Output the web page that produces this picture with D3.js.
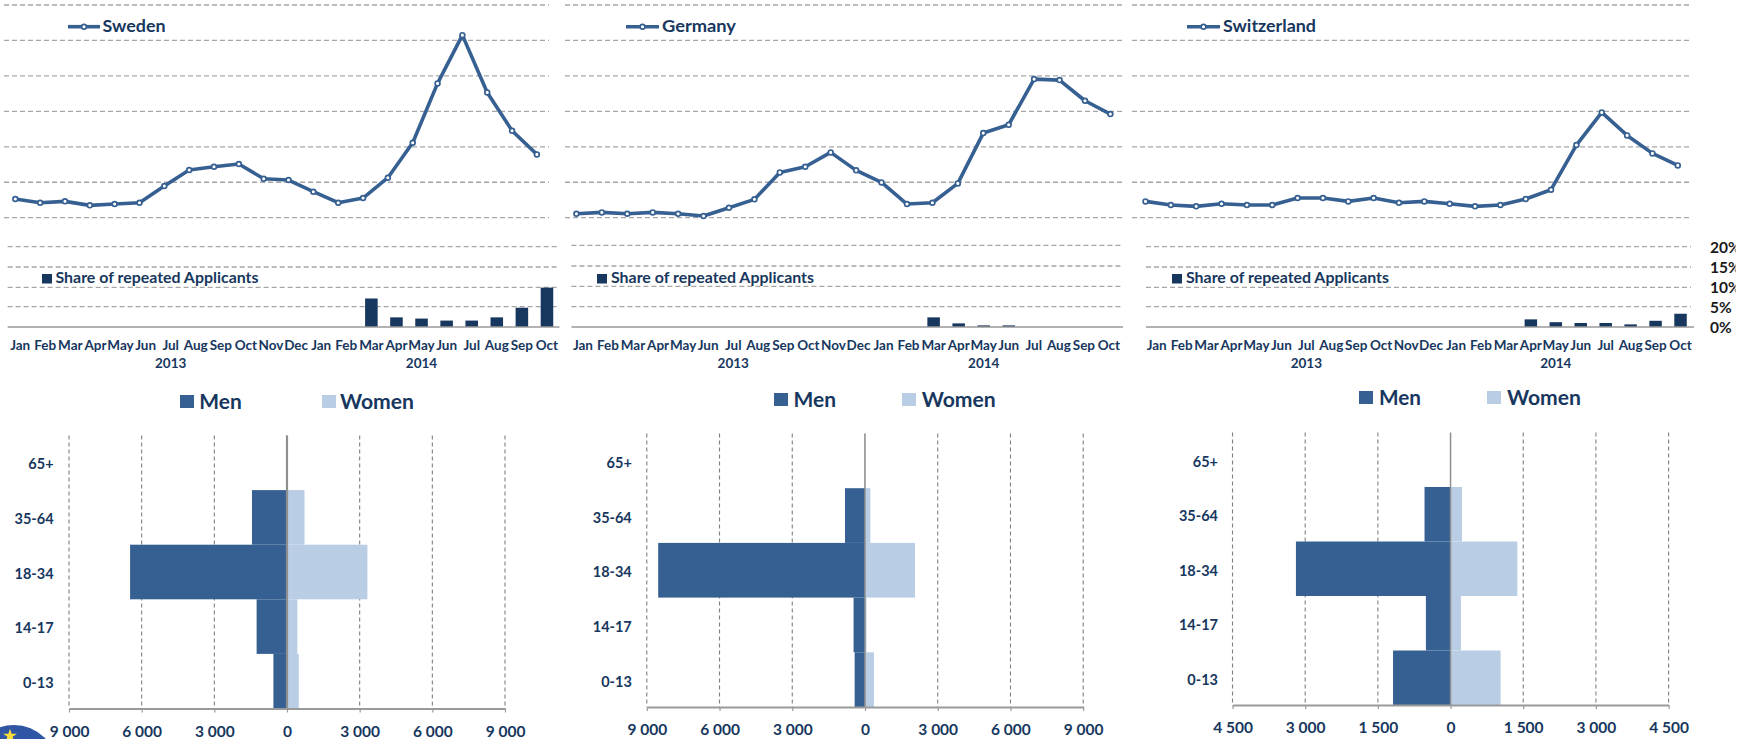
<!DOCTYPE html>
<html><head><meta charset="utf-8">
<script src="https://cdn.jsdelivr.net/npm/d3@7/dist/d3.min.js"></script>
<style>
html,body{margin:0;padding:0;background:#fff;overflow:hidden}
svg{display:block}
text{font-family:"Lato","Open Sans",sans-serif;font-weight:700}
</style></head><body>
<svg id="chart" width="1749" height="739"></svg>
<script>
// ---------- data ----------
const months = ["Jan","Feb","Mar","Apr","May","Jun","Jul","Aug","Sep","Oct","Nov","Dec","Jan","Feb","Mar","Apr","May","Jun","Jul","Aug","Sep","Oct"];
const years = ["2013","2014"];
const countries = ["Sweden","Germany","Switzerland"];
const ageGroups = ["65+","35-64","18-34","14-17","0-13"];
const shareTicks = [0,5,10,15,20];
const swedenApplicants = [.526,.423,.461,.348,.385,.423,.893,1.344,1.438,1.513,1.10,1.062,.733,.423,.555,1.128,2.115,3.788,5.15,3.534,2.453,1.786];
const germanyApplicants = [.113,.15,.113,.15,.113,.047,.282,.517,1.278,1.438,1.842,1.335,.996,.385,.423,.968,2.387,2.622,3.91,3.882,3.299,2.923];
const switzerlandApplicants = [.46,.357,.32,.395,.357,.357,.555,.555,.46,.555,.423,.46,.395,.32,.357,.526,.789,2.049,2.97,2.321,1.814,1.476];
const swedenShare = [0,0,0,0,0,0,0,0,0,0,0,0,0,0,7.1,2.4,2.1,1.6,1.6,2.4,4.8,9.8];
const germanyShare = [0,0,0,0,0,0,0,0,0,0,0,0,0,0,2.4,.9,.4,.4,.1,.1,.1,.1];
const switzerlandShare = [0,0,0,0,0,0,0,0,0,0,0,0,0,0,0,1.9,1.2,1.0,1.0,.65,1.55,3.3];
const swedenMen = [30,1446,6478,1254,561];
const swedenWomen = [20,723,3320,428,487];
const germanyMen = [10,825,8530,471,427];
const germanyWomen = [5,221,2063,59,368];
const switzerlandMen = [0,537,3191,509,1187];
const switzerlandWomen = [0,236,1378,214,1032];
const pyramidMax = [9000,9000,4500];
const pyramidStep = [3000,3000,1500];

// ---------- layout ----------
const BLUE="#376092", NAVY="#17375E", LIGHT="#B9CDE5", GRID="#a6a6a6", AXIS="#9a9a9a";
const panels = [
 {name:countries[0],vals:swedenApplicants,share:swedenShare,men:swedenMen,women:swedenWomen,
  lx:[15.3,536.9],gx:[4,549],band:[7.65,559.5],sgx:[7.65,559.5],lowY:[246.7,267,287.3,306.7,327],
  leg:[68,100,102.6,63],sq:42,st:55.5,
  py:{x:[69,505],y:[435.5,708.5],lab:53.6,m:[180,199.3,42.5],w:[322,340,74],ly:395,ld:2.5}},
 {name:countries[1],vals:germanyApplicants,share:germanyShare,men:germanyMen,women:germanyWomen,
  lx:[576.4,1110.4],gx:[565,1123],band:[570.4,1121.5],sgx:[571.4,1123],lowY:[245.3,266,286.3,306.7,327],
  leg:[626,659,662,74],sq:597,st:611,
  py:{x:[646.8,1083.2],y:[433.5,707],lab:631.8,m:[774,793.6,42.5],w:[902,921.8,74],ly:393,ld:3}},
 {name:countries[2],vals:switzerlandApplicants,share:switzerlandShare,men:switzerlandMen,women:switzerlandWomen,
  lx:[1145.5,1677.8],gx:[1132,1690],band:[1144.2,1693],sgx:[1146,1691],lowY:[246.7,267,287.3,306.7,327],
  leg:[1187,1220,1223,93],sq:1172,st:1186,
  py:{x:[1232.5,1668.6],y:[432.5,705],lab:1218,m:[1359,1379,42],w:[1487,1507,74],ly:391,ld:3}}
];

const svg = d3.select("#chart");

// clip for the cut-off share tick labels on the far right
svg.append("defs").append("clipPath").attr("id","pctClip")
   .append("rect").attr("x",1700).attr("y",230).attr("width",35.5).attr("height",110);

// logo fragment, bottom-left
const g0 = svg.append("g");
g0.append("circle").attr("cx",14).attr("cy",768).attr("r",43).attr("fill","#2f55a4");
g0.append("path").attr("d",d3.symbol(d3.symbolStar,60)()).attr("transform","translate(10,736)").attr("fill","#f7dc3c");

// y scale for the lines: gridlines every 1 unit
const yLine = d3.scaleLinear().domain([0,6]).range([217.7,5]);
const yShare = d3.scaleLinear().domain([0,20]).range([327,246.7]);

panels.forEach((p,pi)=>{
  const g = svg.append("g");
  // line-panel gridlines
  g.append("g").selectAll("line").data(d3.range(0,7)).join("line")
    .attr("x1",p.gx[0]).attr("x2",p.gx[1])
    .attr("y1",d=>yLine(d)).attr("y2",d=>yLine(d))
    .attr("stroke",GRID).attr("stroke-width",1.3).attr("stroke-dasharray","5 3");
  // share-panel gridlines
  g.append("g").selectAll("line").data(p.lowY.slice(0,4)).join("line")
    .attr("x1",p.sgx[0]).attr("x2",p.sgx[1]).attr("y1",d=>d).attr("y2",d=>d)
    .attr("stroke",GRID).attr("stroke-width",1.3).attr("stroke-dasharray","5 3");
  // bars
  const xb = d3.scaleBand().domain(d3.range(months.length)).range(p.band).paddingInner(.5).paddingOuter(.25);
  g.append("g").selectAll("rect").data(p.share.map((v,i)=>({v,i})).filter(d=>d.v>0)).join("rect")
    .attr("x",d=>xb(d.i)).attr("width",xb.bandwidth())
    .attr("y",d=>yShare(d.v)).attr("height",d=>yShare(0)-yShare(d.v))
    .attr("fill",d=>d.v<.2?"#e4e4e4":NAVY);
  g.append("line").attr("x1",p.sgx[0]).attr("x2",pi==2?1694:p.sgx[1]).attr("y1",327).attr("y2",327)
    .attr("stroke",AXIS).attr("stroke-width",1.5);
  // month + year labels
  const step = (p.band[1]-p.band[0])/months.length;
  const cx = i=>p.band[0]+(i+.5)*step;
  g.append("g").selectAll("text").data(months).join("text")
    .attr("x",(d,i)=>cx(i)).attr("y",350).attr("text-anchor","middle")
    .attr("font-size",13.5).attr("fill",NAVY).text(d=>d);
  g.append("g").selectAll("text").data(years).join("text")
    .attr("x",(d,i)=>cx(i?16:6)).attr("y",368).attr("text-anchor","middle")
    .attr("font-size",13.5).attr("fill",NAVY).text(d=>d);
  // line
  const xl = d3.scaleLinear().domain([0,months.length-1]).range(p.lx);
  g.append("path").datum(p.vals)
    .attr("d",d3.line().x((d,i)=>xl(i)).y(d=>yLine(d)))
    .attr("fill","none").attr("stroke",BLUE).attr("stroke-width",3.6).attr("stroke-linejoin","round");
  g.append("g").selectAll("circle").data(p.vals).join("circle")
    .attr("cx",(d,i)=>xl(i)).attr("cy",d=>yLine(d)).attr("r",2.4)
    .attr("fill","#fff").attr("stroke",BLUE).attr("stroke-width",1.7);
  // line legend
  g.append("line").attr("x1",p.leg[0]).attr("x2",p.leg[1]).attr("y1",26.7).attr("y2",26.7)
    .attr("stroke",BLUE).attr("stroke-width",3.6);
  g.append("circle").attr("cx",(p.leg[0]+p.leg[1])/2).attr("cy",26.7).attr("r",2.4)
    .attr("fill","#fff").attr("stroke",BLUE).attr("stroke-width",1.7);
  g.append("text").attr("x",p.leg[2]).attr("y",32).attr("font-size",17.5).attr("fill",NAVY)
    .attr("textLength",p.leg[3]).attr("lengthAdjust","spacingAndGlyphs").text(p.name);
  // share legend
  g.append("rect").attr("x",p.sq).attr("y",274).attr("width",10).attr("height",9.5).attr("fill",NAVY);
  g.append("text").attr("x",p.st).attr("y",282.5).attr("font-size",16).attr("fill",NAVY)
    .attr("textLength",203).attr("lengthAdjust","spacingAndGlyphs").text("Share of repeated Applicants");

  // ---------- pyramid ----------
  const py = p.py, max = pyramidMax[pi], st = pyramidStep[pi];
  const x = d3.scaleLinear().domain([-max,max]).range(py.x);
  const y = d3.scaleBand().domain(ageGroups).range(py.y).padding(0);
  const ticks = d3.range(-max,max+1,st);
  const pg = svg.append("g");
  pg.append("g").selectAll("line").data(ticks.filter(d=>d!==0)).join("line")
    .attr("x1",d=>x(d)).attr("x2",d=>x(d)).attr("y1",py.y[0]).attr("y2",py.y[1])
    .attr("stroke","#7f7f7f").attr("stroke-width",1.1).attr("stroke-dasharray","4 3");
  pg.append("g").selectAll("rect").data(p.women.map((v,i)=>({v,i}))).join("rect")
    .attr("x",x(0)).attr("width",d=>x(d.v)-x(0)).attr("y",d=>y(ageGroups[d.i])).attr("height",y.bandwidth()).attr("fill",LIGHT);
  pg.append("g").selectAll("rect").data(p.men.map((v,i)=>({v,i}))).join("rect")
    .attr("x",d=>x(-d.v)).attr("width",d=>x(0)-x(-d.v)).attr("y",d=>y(ageGroups[d.i])).attr("height",y.bandwidth()).attr("fill",BLUE);
  pg.append("line").attr("x1",x(0)).attr("x2",x(0)).attr("y1",py.y[0]).attr("y2",py.y[1])
    .attr("stroke","#8f8f8f").attr("stroke-width",pi==0?2.2:1.5);
  // value axis
  const ax = d3.axisBottom(x).tickValues(ticks).tickSize(4).tickSizeOuter(0).tickPadding(13)
     .tickFormat(d=>d3.format(",")(Math.abs(d)).replace(",", " "));
  const axG = pg.append("g").attr("transform",`translate(0,${py.y[1]})`).call(ax);
  axG.select(".domain").attr("stroke",AXIS).attr("stroke-width",2);
  axG.selectAll(".tick line").attr("stroke",AXIS).attr("stroke-width",1.2);
  axG.selectAll("text").attr("font-size",15.5).attr("fill",NAVY).attr("font-family","Lato").attr("font-weight",700);
  // category labels
  pg.append("g").selectAll("text").data(ageGroups).join("text")
    .attr("x",py.lab).attr("y",d=>y(d)+y.bandwidth()/2+py.ld-1).attr("dy","0.35em").attr("text-anchor","end")
    .attr("font-size",14.5).attr("fill",NAVY).text(d=>d);
  // legend
  const lg = pg.append("g");
  lg.append("rect").attr("x",py.m[0]).attr("y",py.ly).attr("width",14).attr("height",13).attr("fill",BLUE);
  lg.append("text").attr("x",py.m[1]).attr("y",py.ly+14).attr("font-size",21.5).attr("fill",NAVY)
    .attr("textLength",py.m[2]).attr("lengthAdjust","spacingAndGlyphs").text("Men");
  lg.append("rect").attr("x",py.w[0]).attr("y",py.ly).attr("width",14).attr("height",13).attr("fill",LIGHT);
  lg.append("text").attr("x",py.w[1]).attr("y",py.ly+14).attr("font-size",21.5).attr("fill",NAVY)
    .attr("textLength",py.w[2]).attr("lengthAdjust","spacingAndGlyphs").text("Women");
});

// share tick labels on the far right
svg.append("g").attr("clip-path","url(#pctClip)").selectAll("text").data(shareTicks).join("text")
  .attr("x",1710).attr("y",d=>yShare(d)+1).attr("dy","0.35em").attr("font-size",15.5).attr("fill","#1a1a1a")
  .text(d=>d+"%");
</script>
</body></html>
